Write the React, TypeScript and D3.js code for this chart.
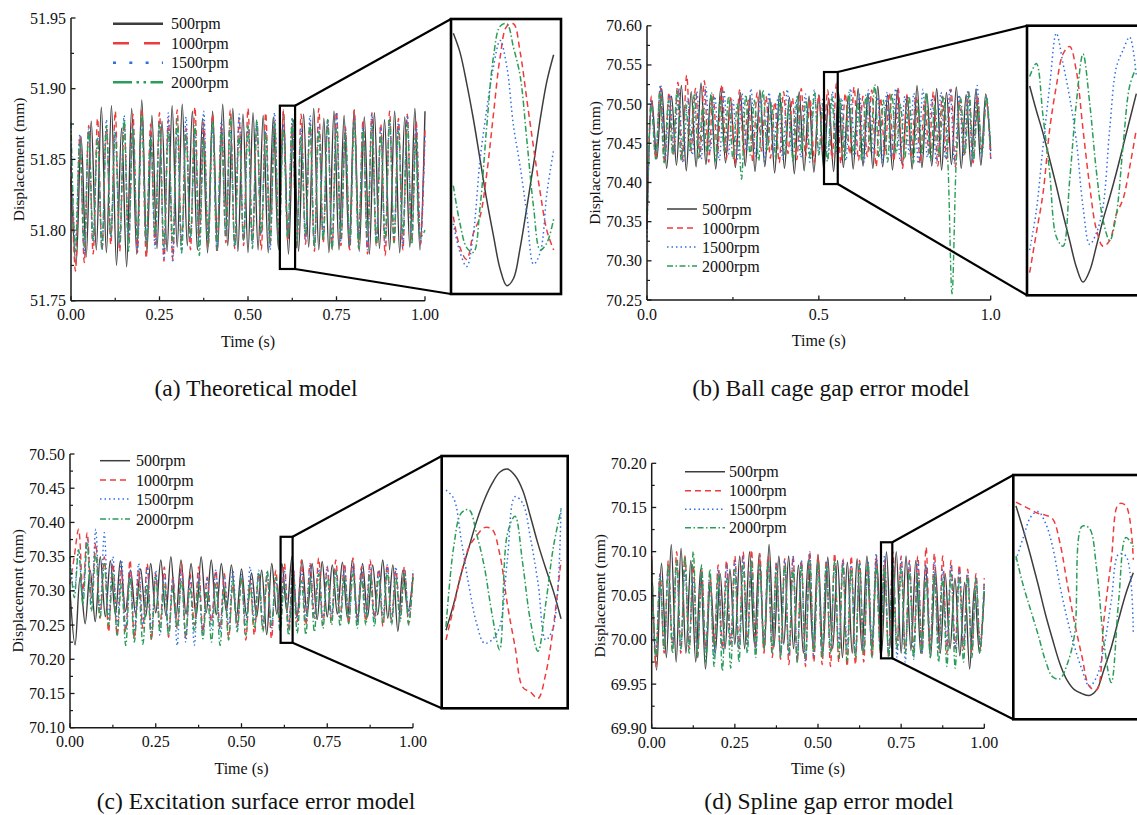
import React from 'react';
import * as d3 from 'd3';

const SERIES = ['500rpm', '1000rpm', '1500rpm', '2000rpm'];
const COLORS = ['#3d3d3d', '#ef3b3b', '#2f6fe4', '#2a9d58'];
const DASH = ['', '6,4', '1.5,3', '6,2.5,1.5,2.5'];
const FONT = '"Liberation Serif", "Times New Roman", serif';

// ---------- (a) Theoretical model ----------
const aYTicks = [51.75, 51.8, 51.85, 51.9, 51.95];
const aXTicks = [0, 0.25, 0.5, 0.75, 1.0];
const a500 = [51.835, 51.776,51.866, 51.781,51.877, 51.786,51.887, 51.784,51.888, 51.775,51.872, 51.774,51.886, 51.783,51.892, 51.784,51.881, 51.787,51.877, 51.785,51.888, 51.788,51.889, 51.789,51.884, 51.786,51.879, 51.784,51.884, 51.787,51.889, 51.789,51.886, 51.785,51.882, 51.784,51.883, 51.786,51.881, 51.784,51.880, 51.787,51.884, 51.783,51.878, 51.785,51.882, 51.788,51.886, 51.786,51.879, 51.784,51.884, 51.786,51.881, 51.787,51.885, 51.785,51.880, 51.783,51.883, 51.787,51.878, 51.786,51.884, 51.784,51.880, 51.788,51.886, 51.786,51.884];
const a1000 = [51.845, 51.771,51.866, 51.777,51.874, 51.783,51.879, 51.786,51.872, 51.79,51.884, 51.785,51.876, 51.792,51.882, 51.784,51.886, 51.78,51.875, 51.79,51.883, 51.778,51.878, 51.779,51.885, 51.791,51.872, 51.786,51.887, 51.795,51.876, 51.788,51.882, 51.784,51.874, 51.791,51.885, 51.787,51.879, 51.789,51.886, 51.793,51.874, 51.786,51.883, 51.79,51.877, 51.788,51.885, 51.792,51.874, 51.787,51.882, 51.79,51.876, 51.785,51.886, 51.791,51.878, 51.787,51.884, 51.789,51.873, 51.786,51.885, 51.792,51.878, 51.783,51.883, 51.789,51.875, 51.782,51.884, 51.79,51.879, 51.786,51.882, 51.792,51.877, 51.79,51.871];
const a1500 = [51.86, 51.79,51.868, 51.783,51.872, 51.792,51.866, 51.786,51.878, 51.795,51.87, 51.789,51.881, 51.793,51.874, 51.785,51.879, 51.791,51.868, 51.787,51.876, 51.779,51.883, 51.777,51.872, 51.784,51.88, 51.794,51.869, 51.789,51.884, 51.792,51.875, 51.786,51.878, 51.796,51.871, 51.788,51.882, 51.793,51.874, 51.79,51.877, 51.797,51.87, 51.786,51.883, 51.791,51.875, 51.795,51.879, 51.788,51.872, 51.793,51.881, 51.789,51.874, 51.796,51.878, 51.787,51.883, 51.792,51.871, 51.789,51.88, 51.794,51.875, 51.786,51.882, 51.793,51.873, 51.79,51.879, 51.795,51.876, 51.788,51.881, 51.797,51.874, 51.792,51.868];
const a2000 = [51.876, 51.785,51.862, 51.788,51.87, 51.793,51.865, 51.787,51.874, 51.796,51.868, 51.791,51.878, 51.785,51.871, 51.794,51.882, 51.79,51.866, 51.797,51.875, 51.788,51.87, 51.792,51.879, 51.784,51.868, 51.795,51.874, 51.782,51.865, 51.79,51.877, 51.786,51.87, 51.796,51.88, 51.789,51.867, 51.793,51.874, 51.787,51.878, 51.798,51.869, 51.791,51.876, 51.786,51.871, 51.794,51.879, 51.789,51.866, 51.797,51.875, 51.788,51.87, 51.793,51.878, 51.786,51.872, 51.795,51.868, 51.79,51.877, 51.787,51.871, 51.796,51.874, 51.789,51.867, 51.794,51.878, 51.791,51.87, 51.797,51.875, 51.79,51.866, 51.795,51.80];
const aIn500 = [51.882, 51.874, 51.861, 51.846, 51.829, 51.812, 51.797, 51.783, 51.776, 51.779, 51.792, 51.809, 51.827, 51.846, 51.862, 51.873];
const aIn1000 = [51.805, 51.792, 51.787, 51.798, 51.805, 51.823, 51.848, 51.872, 51.885, 51.886, 51.874, 51.854, 51.834, 51.815, 51.799, 51.791];
const aIn1500 = [51.802, 51.790, 51.784, 51.798, 51.829, 51.850, 51.868, 51.879, 51.868, 51.843, 51.826, 51.806, 51.785, 51.790, 51.815, 51.833];
const aIn2000 = [51.818, 51.802, 51.792, 51.790, 51.809, 51.843, 51.872, 51.885, 51.886, 51.876, 51.864, 51.837, 51.809, 51.791, 51.794, 51.804];

// ---------- (b) Ball cage gap error model ----------
const bYTicks = [70.25, 70.3, 70.35, 70.4, 70.45, 70.5, 70.55, 70.6];
const bXTicks = [0, 0.5, 1.0];
const b500 = [70.34, 70.505,70.43, 70.52,70.418, 70.51,70.422, 70.524,70.415, 70.516,70.42, 70.527,70.423, 70.512,70.417, 70.52,70.425, 70.508,70.419, 70.515,70.421, 70.51,70.414, 70.518,70.42, 70.507,70.412, 70.514,70.418, 70.509,70.411, 70.516,70.415, 70.51,70.413, 70.512,70.416, 70.508,70.414, 70.515,70.419, 70.51,70.417, 70.52,70.421, 70.514,70.418, 70.523,70.42, 70.512,70.416, 70.518,70.422, 70.51,70.417, 70.524,70.419, 70.513,70.421, 70.52,70.416, 70.515,70.423, 70.522,70.418, 70.512,70.42, 70.519,70.422, 70.513,70.44];
const b1000 = [70.35, 70.51,70.43, 70.522,70.425, 70.515,70.436, 70.528,70.428, 70.537,70.44, 70.52,70.432, 70.53,70.426, 70.512,70.438, 70.525,70.43, 70.508,70.423, 70.518,70.435, 70.505,70.427, 70.515,70.44, 70.51,70.431, 70.503,70.425, 70.516,70.437, 70.508,70.429, 70.52,70.433, 70.506,70.426, 70.512,70.438, 70.518,70.43, 70.527,70.424, 70.514,70.436, 70.522,70.428, 70.51,70.433, 70.518,70.42, 70.508,70.435, 70.515,70.427, 70.52,70.418, 70.512,70.432, 70.51,70.424, 70.505,70.437, 70.516,70.421, 70.51,70.43, 70.519,70.42, 70.508,70.434, 70.515,70.425, 70.51,70.44, 70.505,70.43];
const b1500 = [70.33, 70.505,70.44, 70.525,70.43, 70.512,70.438, 70.52,70.425, 70.508,70.435, 70.516,70.43, 70.522,70.44, 70.51,70.428, 70.518,70.436, 70.505,70.43, 70.514,70.44, 70.52,70.433, 70.508,70.427, 70.515,70.437, 70.51,70.43, 70.519,70.44, 70.506,70.432, 70.513,70.426, 70.518,70.438, 70.51,70.43, 70.516,70.436, 70.508,70.428, 70.52,70.434, 70.512,70.426, 70.518,70.438, 70.509,70.425, 70.515,70.433, 70.52,70.427, 70.51,70.436, 70.514,70.424, 70.519,70.432, 70.508,70.425, 70.515,70.43, 70.52,70.424, 70.512,70.435, 70.518,70.428, 70.524,70.433, 70.51,70.43];
const b2000 = [70.36, 70.50,70.43, 70.515,70.425, 70.505,70.435, 70.518,70.428, 70.50,70.44, 70.512,70.43, 70.498,70.436, 70.515,70.427, 70.505,70.44, 70.51,70.43, 70.50,70.404, 70.512,70.435, 70.505,70.428, 70.518,70.44, 70.502,70.43, 70.514,70.436, 70.50,70.426, 70.51,70.438, 70.505,70.43, 70.516,70.435, 70.50,70.427, 70.51,70.44, 70.506,70.43, 70.515,70.436, 70.502,70.428, 70.512,70.44, 70.525,70.432, 70.505,70.426, 70.514,70.437, 70.50,70.43, 70.51,70.425, 70.505,70.436, 70.515,70.428, 70.50,70.434, 70.51,70.43, 70.258,70.43, 70.508,70.436, 70.514,70.428, 70.50,70.438, 70.51,70.445];
const bIn500 = [70.509, 70.496, 70.484, 70.470, 70.456, 70.441, 70.427, 70.413, 70.405, 70.411, 70.424, 70.438, 70.450, 70.463, 70.477, 70.491, 70.505];
const bIn1000 = [70.410, 70.431, 70.452, 70.486, 70.509, 70.526, 70.530, 70.517, 70.486, 70.456, 70.433, 70.424, 70.427, 70.441, 70.449, 70.466, 70.486];
const bIn1500 = [70.422, 70.443, 70.477, 70.509, 70.537, 70.521, 70.503, 70.480, 70.445, 70.425, 70.431, 70.445, 70.486, 70.519, 70.528, 70.535, 70.514];
const bIn2000 = [70.514, 70.521, 70.493, 70.463, 70.429, 70.424, 70.459, 70.500, 70.526, 70.500, 70.464, 70.438, 70.427, 70.441, 70.477, 70.509, 70.519];

// ---------- (c) Excitation surface error model ----------
const cYTicks = [70.1, 70.15, 70.2, 70.25, 70.3, 70.35, 70.4, 70.45, 70.5];
const cXTicks = [0, 0.25, 0.5, 0.75, 1.0];
const c500 = [70.30, 70.221,70.32, 70.252,70.33, 70.255,70.35, 70.262,70.344, 70.265,70.344, 70.27,70.33, 70.266,70.332, 70.262,70.34, 70.268,70.345, 70.264,70.35, 70.26,70.345, 70.266,70.34, 70.262,70.35, 70.268,70.345, 70.265,70.34, 70.27,70.338, 70.262,70.332, 70.264,70.326, 70.262,70.33, 70.236,70.34, 70.266,70.34, 70.27,70.35, 70.262,70.345, 70.265,70.34, 70.258,70.343, 70.262,70.338, 70.266,70.342, 70.26,70.346, 70.255,70.34, 70.262,70.338, 70.265,70.345, 70.26,70.338, 70.241,70.33, 70.27,70.32];
const c1000 = [70.31, 70.35,70.39, 70.30,70.385, 70.29,70.37, 70.26,70.35, 70.24,70.34, 70.235,70.33, 70.24,70.345, 70.23,70.33, 70.245,70.34, 70.228,70.325, 70.25,70.335, 70.232,70.32, 70.245,70.34, 70.23,70.325, 70.25,70.335, 70.24,70.32, 70.255,70.33, 70.245,70.325, 70.232,70.31, 70.25,70.32, 70.228,70.315, 70.235,70.325, 70.245,70.32, 70.23,70.33, 70.252,70.34, 70.245,70.335, 70.255,70.345, 70.25,70.34, 70.26,70.348, 70.25,70.335, 70.258,70.345, 70.26,70.34, 70.252,70.348, 70.262,70.335, 70.255,70.345, 70.26,70.332, 70.248,70.338, 70.255,70.33, 70.26,70.335, 70.252,70.325];
const c1500 = [70.34, 70.30,70.36, 70.29,70.375, 70.28,70.39, 70.27,70.385, 70.26,70.35, 70.25,70.345, 70.245,70.33, 70.24,70.34, 70.25,70.335, 70.24,70.33, 70.235,70.325, 70.24,70.32, 70.22,70.33, 70.225,70.32, 70.22,70.325, 70.235,70.32, 70.245,70.33, 70.24,70.322, 70.25,70.33, 70.245,70.325, 70.25,70.335, 70.255,70.33, 70.25,70.325, 70.245,70.32, 70.255,70.33, 70.25,70.335, 70.26,70.33, 70.258,70.338, 70.262,70.332, 70.258,70.336, 70.265,70.33, 70.26,70.335, 70.262,70.338, 70.258,70.332, 70.265,70.336, 70.26,70.33, 70.264,70.338, 70.26,70.335, 70.262,70.33, 70.265,70.33];
const c2000 = [70.35, 70.29,70.36, 70.28,70.37, 70.27,70.355, 70.26,70.34, 70.25,70.325, 70.235,70.31, 70.22,70.32, 70.225,70.305, 70.222,70.31, 70.23,70.32, 70.24,70.31, 70.235,70.305, 70.245,70.315, 70.235,70.305, 70.24,70.31, 70.23,70.30, 70.225,70.31, 70.22,70.305, 70.228,70.315, 70.24,70.32, 70.235,70.31, 70.245,70.325, 70.24,70.33, 70.25,70.32, 70.24,70.31, 70.235,70.322, 70.238,70.315, 70.236,70.32, 70.24,70.325, 70.245,70.32, 70.25,70.33, 70.248,70.32, 70.252,70.325, 70.245,70.318, 70.25,70.325, 70.248,70.32, 70.252,70.328, 70.25,70.32, 70.255,70.325, 70.25,70.32];
const cIn500 = [70.272, 70.288, 70.307, 70.323, 70.339, 70.352, 70.362, 70.369, 70.371, 70.367, 70.358, 70.342, 70.325, 70.310, 70.296, 70.279];
const cIn1000 = [70.266, 70.286, 70.307, 70.323, 70.330, 70.335, 70.334, 70.319, 70.288, 70.262, 70.237, 70.234, 70.230, 70.245, 70.274, 70.315];
const cIn1500 = [70.358, 70.353, 70.327, 70.299, 70.276, 70.264, 70.266, 70.274, 70.315, 70.354, 70.350, 70.329, 70.301, 70.266, 70.274, 70.348];
const cIn2000 = [70.274, 70.323, 70.344, 70.346, 70.331, 70.311, 70.282, 70.260, 70.331, 70.342, 70.313, 70.278, 70.259, 70.288, 70.323, 70.346];

// ---------- (d) Spline gap error model ----------
const dYTicks = [69.9, 69.95, 70.0, 70.05, 70.1, 70.15, 70.2];
const dXTicks = [0, 0.25, 0.5, 0.75, 1.0];
const d500 = [70.09, 69.966,70.087, 69.98,70.108, 69.975,70.104, 69.985,70.09, 69.975,70.08, 69.967,70.066, 69.985,70.075, 69.99,70.08, 69.995,70.095, 69.99,70.10, 69.995,70.098, 69.988,70.108, 69.992,70.095, 69.995,70.095, 69.99,70.085, 69.985,70.09, 69.992,70.097, 69.985,70.094, 69.99,70.09, 69.98,70.088, 69.985,70.092, 69.988,70.095, 69.99,70.09, 69.985,70.10, 69.99,70.10, 69.985,70.095, 69.988,70.09, 69.985,70.085, 69.98,70.08, 69.985,70.075, 69.99,70.07, 69.982,70.065, 69.967,70.06, 69.985,70.055];
const d1000 = [70.095, 69.97,70.075, 69.985,70.09, 69.99,70.10, 69.985,70.095, 69.99,70.085, 69.98,70.08, 69.99,70.075, 69.995,70.085, 69.99,70.09, 69.995,70.095, 69.99,70.10, 69.995,70.102, 69.99,70.098, 69.985,70.095, 69.98,70.088, 69.978,70.092, 69.972,70.095, 69.975,70.09, 69.97,70.10, 69.975,70.095, 69.972,70.09, 69.97,70.098, 69.975,70.092, 69.97,70.095, 69.972,70.09, 69.975,70.088, 69.98,70.095, 69.985,70.09, 69.98,70.10, 69.99,70.095, 69.985,70.09, 69.99,70.095, 69.985,70.105, 69.99,70.098, 69.99,70.095, 69.985,70.09, 69.99,70.085, 69.99,70.08, 69.985,70.075, 69.99,70.07];
const d1500 = [70.06, 69.985,70.075, 69.99,70.08, 69.995,70.085, 69.99,70.08, 69.995,70.07, 69.985,70.075, 69.99,70.07, 69.98,70.08, 69.99,70.085, 69.995,70.09, 69.99,70.095, 69.995,70.09, 69.99,70.085, 69.995,70.09, 69.99,70.088, 69.985,70.09, 69.982,70.095, 69.978,70.09, 69.975,70.1, 69.98,70.085, 69.985,70.09, 69.99,70.085, 69.995,70.09, 69.99,70.085, 69.985,70.088, 69.99,70.09, 69.995,70.098, 69.99,70.095, 69.985,70.09, 69.98,70.092, 69.975,70.088, 69.978,70.09, 69.985,70.085, 69.99,70.088, 69.99,70.08, 69.995,70.085, 69.99,70.08, 69.995,70.075, 69.99,70.07, 69.995,70.065];
const d2000 = [70.09, 69.98,70.07, 69.99,70.085, 69.985,70.09, 69.99,70.095, 69.985,70.1, 69.98,70.085, 69.975,70.08, 69.97,70.075, 69.965,70.07, 69.968,70.08, 69.975,70.085, 69.985,70.09, 69.98,70.085, 69.99,70.09, 69.985,70.082, 69.98,70.085, 69.985,70.08, 69.975,70.085, 69.98,70.09, 69.985,70.088, 69.98,70.085, 69.985,70.09, 69.98,70.085, 69.975,70.08, 69.98,70.085, 69.985,70.088, 69.98,70.084, 69.985,70.082, 69.98,70.085, 69.99,70.08, 69.985,70.078, 69.98,70.075, 69.985,70.07, 69.98,70.075, 69.975,70.07, 69.97,70.075, 69.968,70.07, 69.975,70.072, 69.98,70.07, 69.985,70.06];
const dIn500 = [70.094, 70.081, 70.067, 70.052, 70.036, 70.022, 70.009, 70.000, 69.995, 69.993, 69.992, 69.995, 70.006, 70.018, 70.033, 70.047, 70.058];
const dIn1000 = [70.096, 70.094, 70.092, 70.090, 70.089, 70.087, 70.074, 70.052, 70.031, 70.013, 69.997, 69.995, 70.033, 70.065, 70.095, 70.094, 70.065];
const dIn1500 = [70.065, 70.077, 70.088, 70.091, 70.085, 70.072, 70.051, 70.033, 70.018, 70.006, 69.997, 70.002, 70.018, 70.043, 70.068, 70.067, 70.025];
const dIn2000 = [70.067, 70.051, 70.038, 70.025, 70.011, 70.002, 70.001, 70.009, 70.025, 70.083, 70.082, 70.060, 70.020, 69.999, 70.043, 70.077, 70.072];

type Cfg = {
  id: string;
  series: number[][];
  inset: number[][];
  yTicks: number[];
  xTicks: number[];
  xFmt: string;
  x0: number; x1: number; yTop: number; yBot: number;
  zoom: { t0: number; t1: number; v0: number; v1: number };
  box: { x: number; y: number; w: number; h: number };
  f0: number; f1: number;
  legend: { lx0: number; lx1: number; tx: number; ys: number[]; dash: string[]; lw: number };
  caption: string; capX: number; capY: number;
};

const panels: Cfg[] = [
  {
    id: 'a', series: [a500, a1000, a1500, a2000], inset: [aIn500, aIn1000, aIn1500, aIn2000],
    yTicks: aYTicks, xTicks: aXTicks, xFmt: '.2f',
    x0: 71, x1: 425, yTop: 18, yBot: 300.8,
    zoom: { t0: 0.59, t1: 0.633, v0: 51.7725, v1: 51.888 },
    box: { x: 451, y: 19, w: 110, h: 275 }, f0: 0.021, f1: 0.933,
    legend: { lx0: 113, lx1: 163, tx: 171, ys: [23.7, 43.3, 62.7, 82.3], dash: ['', '16,15', '3,13.3', '19,4.5,2.5,4.5,2.5,4.5'], lw: 2.6 },
    caption: '(a) Theoretical model', capX: 256, capY: 396,
  },
  {
    id: 'b', series: [b500, b1000, b1500, b2000], inset: [bIn500, bIn1000, bIn1500, bIn2000],
    yTicks: bYTicks, xTicks: bXTicks, xFmt: '.1f',
    x0: 647, x1: 990.7, yTop: 25.8, yBot: 300,
    zoom: { t0: 0.515, t1: 0.555, v0: 70.398, v1: 70.541 },
    box: { x: 1027, y: 25.7, w: 123, h: 269.6 }, f0: 0.0217, f1: 0.889,
    legend: { lx0: 667, lx1: 697, tx: 702, ys: [209, 228, 247, 266], dash: DASH, lw: 1.5 },
    caption: '(b) Ball cage gap error model', capX: 831, capY: 396,
  },
  {
    id: 'c', series: [c500, c1000, c1500, c2000], inset: [cIn500, cIn1000, cIn1500, cIn2000],
    yTicks: cYTicks, xTicks: cXTicks, xFmt: '.2f',
    x0: 70, x1: 413, yTop: 454, yBot: 727.7,
    zoom: { t0: 0.614, t1: 0.649, v0: 70.224, v1: 70.379 },
    box: { x: 441.7, y: 456, w: 126, h: 252.3 }, f0: 0.034, f1: 0.947,
    legend: { lx0: 100, lx1: 130, tx: 136, ys: [460.7, 480, 499, 519], dash: DASH, lw: 1.5 },
    caption: '(c) Excitation surface error model', capX: 256, capY: 809,
  },
  {
    id: 'd', series: [d500, d1000, d1500, d2000], inset: [dIn500, dIn1000, dIn1500, dIn2000],
    yTicks: dYTicks, xTicks: dXTicks, xFmt: '.2f',
    x0: 651.7, x1: 984.3, yTop: 463.3, yBot: 728.3,
    zoom: { t0: 0.6894, t1: 0.7234, v0: 69.9792, v1: 70.1106 },
    box: { x: 1013.3, y: 475, w: 127, h: 244.3 }, f0: 0.021, f1: 0.945,
    legend: { lx0: 685, lx1: 725, tx: 729, ys: [471.7, 490.7, 509.3, 527.7], dash: DASH, lw: 1.5 },
    caption: '(d) Spline gap error model', capX: 829, capY: 809,
  },
];

function Panel({ p }: { p: Cfg }) {
  const x = d3.scaleLinear().domain([0, 1]).range([p.x0, p.x1]);
  const y = d3.scaleLinear().domain([p.yTicks[0], p.yTicks[p.yTicks.length - 1]]).range([p.yBot, p.yTop]);
  const yFmt = d3.format('.2f');
  const xFmt = d3.format(p.xFmt);
  const mainLine = (arr: number[]) =>
    d3.line<number>()
      .x((_, i) => x(i / (arr.length - 1)))
      .y((v) => y(v))
      .curve(d3.curveCatmullRom.alpha(0.5))(arr) || '';

  const xi = d3.scaleLinear().domain([p.zoom.t0, p.zoom.t1]).range([p.box.x, p.box.x + p.box.w]);
  const yi = d3.scaleLinear().domain([p.zoom.v0, p.zoom.v1]).range([p.box.y + p.box.h, p.box.y]);
  const insetLine = (arr: number[]) =>
    d3.line<number>()
      .x((_, i) => {
        const f = p.f0 + ((p.f1 - p.f0) * i) / (arr.length - 1);
        return xi(p.zoom.t0 + f * (p.zoom.t1 - p.zoom.t0));
      })
      .y((v) => yi(v))
      .curve(d3.curveCatmullRom.alpha(0.5))(arr) || '';

  const yMinor = p.yTicks.slice(1).map((v, i) => (v + p.yTicks[i]) / 2);
  const xMinor = p.xTicks.slice(1).map((v, i) => (v + p.xTicks[i]) / 2);

  const zx0 = x(p.zoom.t0), zx1 = x(p.zoom.t1);
  const zyT = y(p.zoom.v1), zyB = y(p.zoom.v0);
  const axisColor = '#1a1a1a';

  return (
    <g>
      <defs>
        <clipPath id={`clip-in-${p.id}`}>
          <rect x={p.box.x} y={p.box.y} width={p.box.w} height={p.box.h} />
        </clipPath>
      </defs>
      <g fill="none">
        {p.series.map((s, k) => (
          <path key={k} d={mainLine(s)} stroke={COLORS[k]} strokeWidth={1.4} strokeDasharray={DASH[k] || undefined} />
        ))}
      </g>
      <line x1={p.x0} x2={p.x0} y1={p.yTop} y2={p.yBot} stroke={axisColor} strokeWidth={1.5} />
      <line x1={p.x0} x2={p.x1} y1={p.yBot} y2={p.yBot} stroke={axisColor} strokeWidth={1.5} />
      {p.yTicks.map((t) => (
        <g key={'yt' + t}>
          <line x1={p.x0} x2={p.x0 + 4.5} y1={y(t)} y2={y(t)} stroke={axisColor} strokeWidth={1.3} />
          <text x={p.x0 - 5} y={y(t) + 5.5} textAnchor="end" fontSize={16} fontFamily={FONT} fill="#111">{yFmt(t)}</text>
        </g>
      ))}
      {yMinor.map((t) => (
        <line key={'ym' + t} x1={p.x0} x2={p.x0 + 3} y1={y(t)} y2={y(t)} stroke={axisColor} strokeWidth={1.2} />
      ))}
      {p.xTicks.map((t) => (
        <g key={'xt' + t}>
          <line x1={x(t)} x2={x(t)} y1={p.yBot} y2={p.yBot - 4.5} stroke={axisColor} strokeWidth={1.3} />
          <text x={x(t)} y={p.yBot + 19.5} textAnchor="middle" fontSize={16} fontFamily={FONT} fill="#111">{xFmt(t)}</text>
        </g>
      ))}
      {xMinor.map((t) => (
        <line key={'xm' + t} x1={x(t)} x2={x(t)} y1={p.yBot} y2={p.yBot - 3} stroke={axisColor} strokeWidth={1.2} />
      ))}
      <text x={(p.x0 + p.x1) / 2} y={p.yBot + 46} textAnchor="middle" fontSize={16} fontFamily={FONT} fill="#111">Time (s)</text>
      <text
        transform={`translate(${p.x0 - 47},${(p.yTop + p.yBot) / 2}) rotate(-90)`}
        textAnchor="middle" fontSize={15.5} fontFamily={FONT} fill="#111"
      >Displacement (mm)</text>
      {SERIES.map((name, k) => (
        <g key={'lg' + k}>
          <line x1={p.legend.lx0} x2={p.legend.lx1} y1={p.legend.ys[k]} y2={p.legend.ys[k]}
            stroke={COLORS[k]} strokeWidth={p.legend.lw} strokeDasharray={p.legend.dash[k] || undefined} />
          <text x={p.legend.tx} y={p.legend.ys[k] + 5.5} fontSize={16} fontFamily={FONT} fill="#111">{name}</text>
        </g>
      ))}
      <rect x={zx0} y={zyT} width={zx1 - zx0} height={zyB - zyT} fill="none" stroke="#000" strokeWidth={2.2} />
      <line x1={zx1} y1={zyT} x2={p.box.x} y2={p.box.y} stroke="#000" strokeWidth={2.2} />
      <line x1={zx1} y1={zyB} x2={p.box.x} y2={p.box.y + p.box.h} stroke="#000" strokeWidth={2.2} />
      <rect x={p.box.x} y={p.box.y} width={p.box.w} height={p.box.h} fill="#fff" stroke="none" />
      <g fill="none" clipPath={`url(#clip-in-${p.id})`}>
        {p.inset.map((s, k) => (
          <path key={k} d={insetLine(s)} stroke={COLORS[k]} strokeWidth={1.5} strokeDasharray={DASH[k] || undefined} />
        ))}
      </g>
      <rect x={p.box.x} y={p.box.y} width={p.box.w} height={p.box.h} fill="none" stroke="#000" strokeWidth={2.6} />
      <text x={p.capX} y={p.capY} textAnchor="middle" fontSize={23.5} fontFamily={FONT} fill="#111">{p.caption}</text>
    </g>
  );
}

export default function App() {
  return (
    <svg width={1137} height={815} viewBox="0 0 1137 815"
      style={{ position: 'absolute', left: 0, top: 0, background: '#fff' }}>
      <rect x={0} y={0} width={1137} height={815} fill="#fff" />
      {panels.map((p) => <Panel key={p.id} p={p} />)}
    </svg>
  );
}
